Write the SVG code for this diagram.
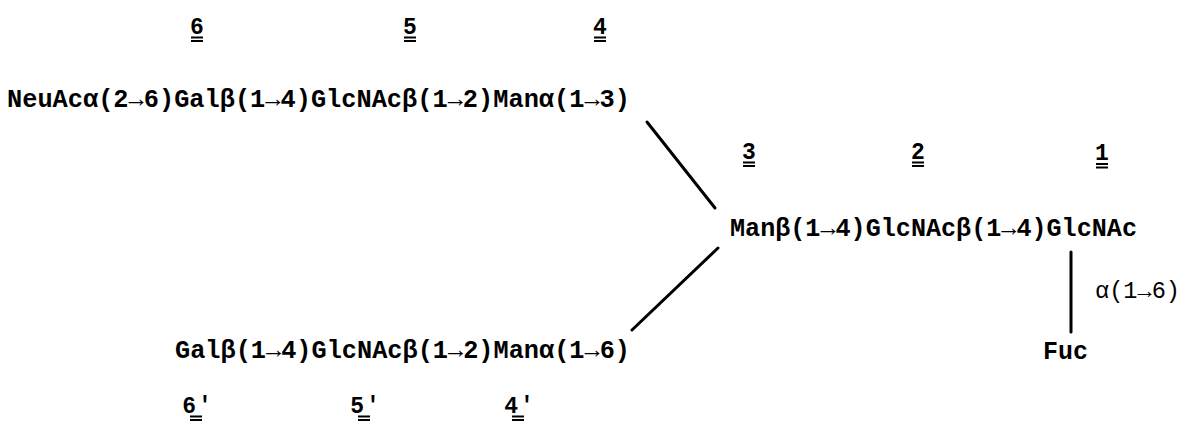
<svg xmlns="http://www.w3.org/2000/svg" width="1183" height="425" viewBox="0 0 1183 425">
<style>
.t{font-family:"Liberation Mono","DejaVu Sans Mono",monospace;font-weight:bold;font-size:25px;fill:#000}
.s{font-family:"Liberation Mono","DejaVu Sans Mono",monospace;font-size:23px;fill:#000}
.n{font-family:"Liberation Mono","DejaVu Sans Mono",monospace;font-weight:bold;font-size:23px;fill:#000;text-anchor:middle}
.u{stroke:#000;stroke-width:2}
.c{stroke:#000;stroke-width:3;stroke-linecap:round;fill:none}
</style>
<rect width="1183" height="425" fill="#fff"/>
<g id="branch-upper">
<text class="t" x="7" y="107" textLength="623" lengthAdjust="spacingAndGlyphs">NeuAcα(2→6)Galβ(1→4)GlcNAcβ(1→2)Manα(1→3)</text>
</g>
<g id="core">
<text class="t" x="730" y="236" textLength="407" lengthAdjust="spacingAndGlyphs">Manβ(1→4)GlcNAcβ(1→4)GlcNAc</text>
</g>
<g id="branch-lower">
<text class="t" x="175" y="358" textLength="455" lengthAdjust="spacingAndGlyphs">Galβ(1→4)GlcNAcβ(1→2)Manα(1→6)</text>
</g>
<g id="fuc">
<text class="t" x="1043" y="359" textLength="45" lengthAdjust="spacingAndGlyphs">Fuc</text>
</g>
<g id="connectors">
<line class="c" x1="647" y1="122" x2="715" y2="208"/>
<line class="c" x1="632" y1="330" x2="718" y2="248"/>
<line class="c" x1="1071" y1="252" x2="1071" y2="332"/>
<text class="s" x="1095" y="298" textLength="85" lengthAdjust="spacingAndGlyphs">α(1→6)</text>
</g>
<g id="labels">
<text class="n" x="197" y="34">6</text>
<line class="u" x1="191" y1="37.5" x2="203" y2="37.5"/><line class="u" x1="191" y1="41" x2="203" y2="41"/>
<text class="n" x="410" y="34">5</text>
<line class="u" x1="404" y1="37.5" x2="416" y2="37.5"/><line class="u" x1="404" y1="41" x2="416" y2="41"/>
<text class="n" x="600" y="34">4</text>
<line class="u" x1="594" y1="37.5" x2="606" y2="37.5"/><line class="u" x1="594" y1="41" x2="606" y2="41"/>
<text class="n" x="749" y="159">3</text>
<line class="u" x1="743" y1="162.5" x2="755" y2="162.5"/><line class="u" x1="743" y1="166" x2="755" y2="166"/>
<text class="n" x="918" y="159">2</text>
<line class="u" x1="912" y1="162.5" x2="924" y2="162.5"/><line class="u" x1="912" y1="166" x2="924" y2="166"/>
<text class="n" x="1102" y="160">1</text>
<line class="u" x1="1096" y1="164" x2="1108" y2="164"/><line class="u" x1="1096" y1="167.5" x2="1108" y2="167.5"/>
<text class="n" x="197" y="413">6<tspan dx="2">'</tspan></text>
<line class="u" x1="190" y1="416.5" x2="202" y2="416.5"/><line class="u" x1="190" y1="420" x2="202" y2="420"/>
<text class="n" x="365" y="413">5<tspan dx="2">'</tspan></text>
<line class="u" x1="358" y1="416.5" x2="370" y2="416.5"/><line class="u" x1="358" y1="420" x2="370" y2="420"/>
<text class="n" x="519" y="413">4<tspan dx="2">'</tspan></text>
<line class="u" x1="512" y1="416.5" x2="524" y2="416.5"/><line class="u" x1="512" y1="420" x2="524" y2="420"/>
</g>
</svg>
